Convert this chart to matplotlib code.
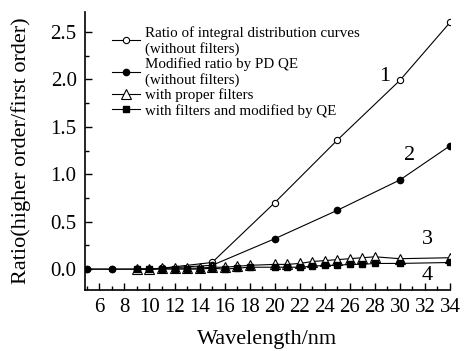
import matplotlib
matplotlib.use("Agg")
import matplotlib.pyplot as plt
from matplotlib.ticker import MultipleLocator

plt.rcParams['font.family'] = ['Liberation Serif', 'DejaVu Serif']
plt.rcParams['mathtext.fontset'] = 'stix'

x12 = [5, 7, 9, 10, 11, 15, 20, 25, 30, 34]
y1 = [0.0, 0.0, 0.0, 0.0, 0.01, 0.07, 0.70, 1.36, 1.99, 2.60]
y2 = [0.0, 0.0, 0.0, 0.0, 0.01, 0.04, 0.32, 0.62, 0.94, 1.30]
x34 = [9, 10, 11, 12, 13, 14, 15, 16, 17, 18, 20, 21, 22, 23, 24, 25, 26, 27, 28, 30, 34]
y3 = [0.0, 0.0, 0.01, 0.01, 0.01, 0.01, 0.02, 0.02, 0.03, 0.04, 0.05, 0.05, 0.06, 0.08, 0.09, 0.10, 0.11, 0.12, 0.13, 0.11, 0.12]
y4 = [0.0, 0.0, 0.0, 0.0, 0.0, 0.0, 0.01, 0.0, 0.01, 0.02, 0.02, 0.02, 0.02, 0.03, 0.04, 0.04, 0.05, 0.05, 0.06, 0.06, 0.07]
labels = ["Ratio of integral distribution curves\n(without filters)",
          "Modified ratio by PD QE\n(without filters)",
          "with proper filters",
          "with filters and modified by QE"]
curve_ids = ["1", "2", "3", "4"]

fig = plt.figure(figsize=(4.70, 3.51), dpi=100)
ax = fig.add_axes([85/470, 1-290/351, (450-85)/470, (290-12)/351])

ax.plot(x12, y1, '-', color='black', lw=0.8, marker='o', mfc='white', mec='black', ms=4.5, mew=0.8, label=labels[0])
ax.plot(x12, y2, '-', color='black', lw=0.8, marker='o', mfc='black', mec='black', ms=4.5, label=labels[1])
ax.plot(x34, y3, '-', color='black', lw=0.8, marker='^', mfc='white', mec='black', ms=6.5, mew=0.8, label=labels[2])
ax.plot(x34, y4, '-', color='black', lw=0.8, marker='s', mfc='black', mec='black', ms=4.5, label=labels[3])

ax.set_xlim(4.85, 34)
ax.set_ylim(-0.22, 2.71)
ax.xaxis.set_major_locator(MultipleLocator(2))
ax.xaxis.set_minor_locator(MultipleLocator(1))
ax.yaxis.set_major_locator(MultipleLocator(0.5))
ax.yaxis.set_minor_locator(MultipleLocator(0.25))
ax.set_xticks(range(6, 35, 2))
ax.tick_params(which='both', direction='in', labelsize=15, width=1)
ax.tick_params(axis='x', pad=6)
ax.tick_params(axis='y', pad=6)
ax.tick_params(which='major', length=5)
ax.tick_params(which='minor', length=3)
ax.spines['top'].set_visible(False)
ax.spines['right'].set_visible(False)
for s in ['left', 'bottom']:
    ax.spines[s].set_linewidth(1.2)
ax.set_xlabel("Wavelength/nm", fontsize=16, labelpad=9)
ax.set_ylabel("Ratio(higher order/first order)", fontsize=16, labelpad=14)

ax.text(28.8, 2.03, curve_ids[0], fontsize=16, ha='center', va='center')
ax.text(30.8, 1.20, curve_ids[1], fontsize=16, ha='center', va='center')
ax.text(32.2, 0.31, curve_ids[2], fontsize=16, ha='center', va='center')
ax.text(32.2, -0.07, curve_ids[3], fontsize=16, ha='center', va='center')

leg = ax.legend(loc='upper left', bbox_to_anchor=(0.057, 0.972), frameon=False, fontsize=10.8,
                handlelength=1.9, handletextpad=0.3, labelspacing=0.1, borderaxespad=0.0)

fig.savefig("out.png", dpi=100)
